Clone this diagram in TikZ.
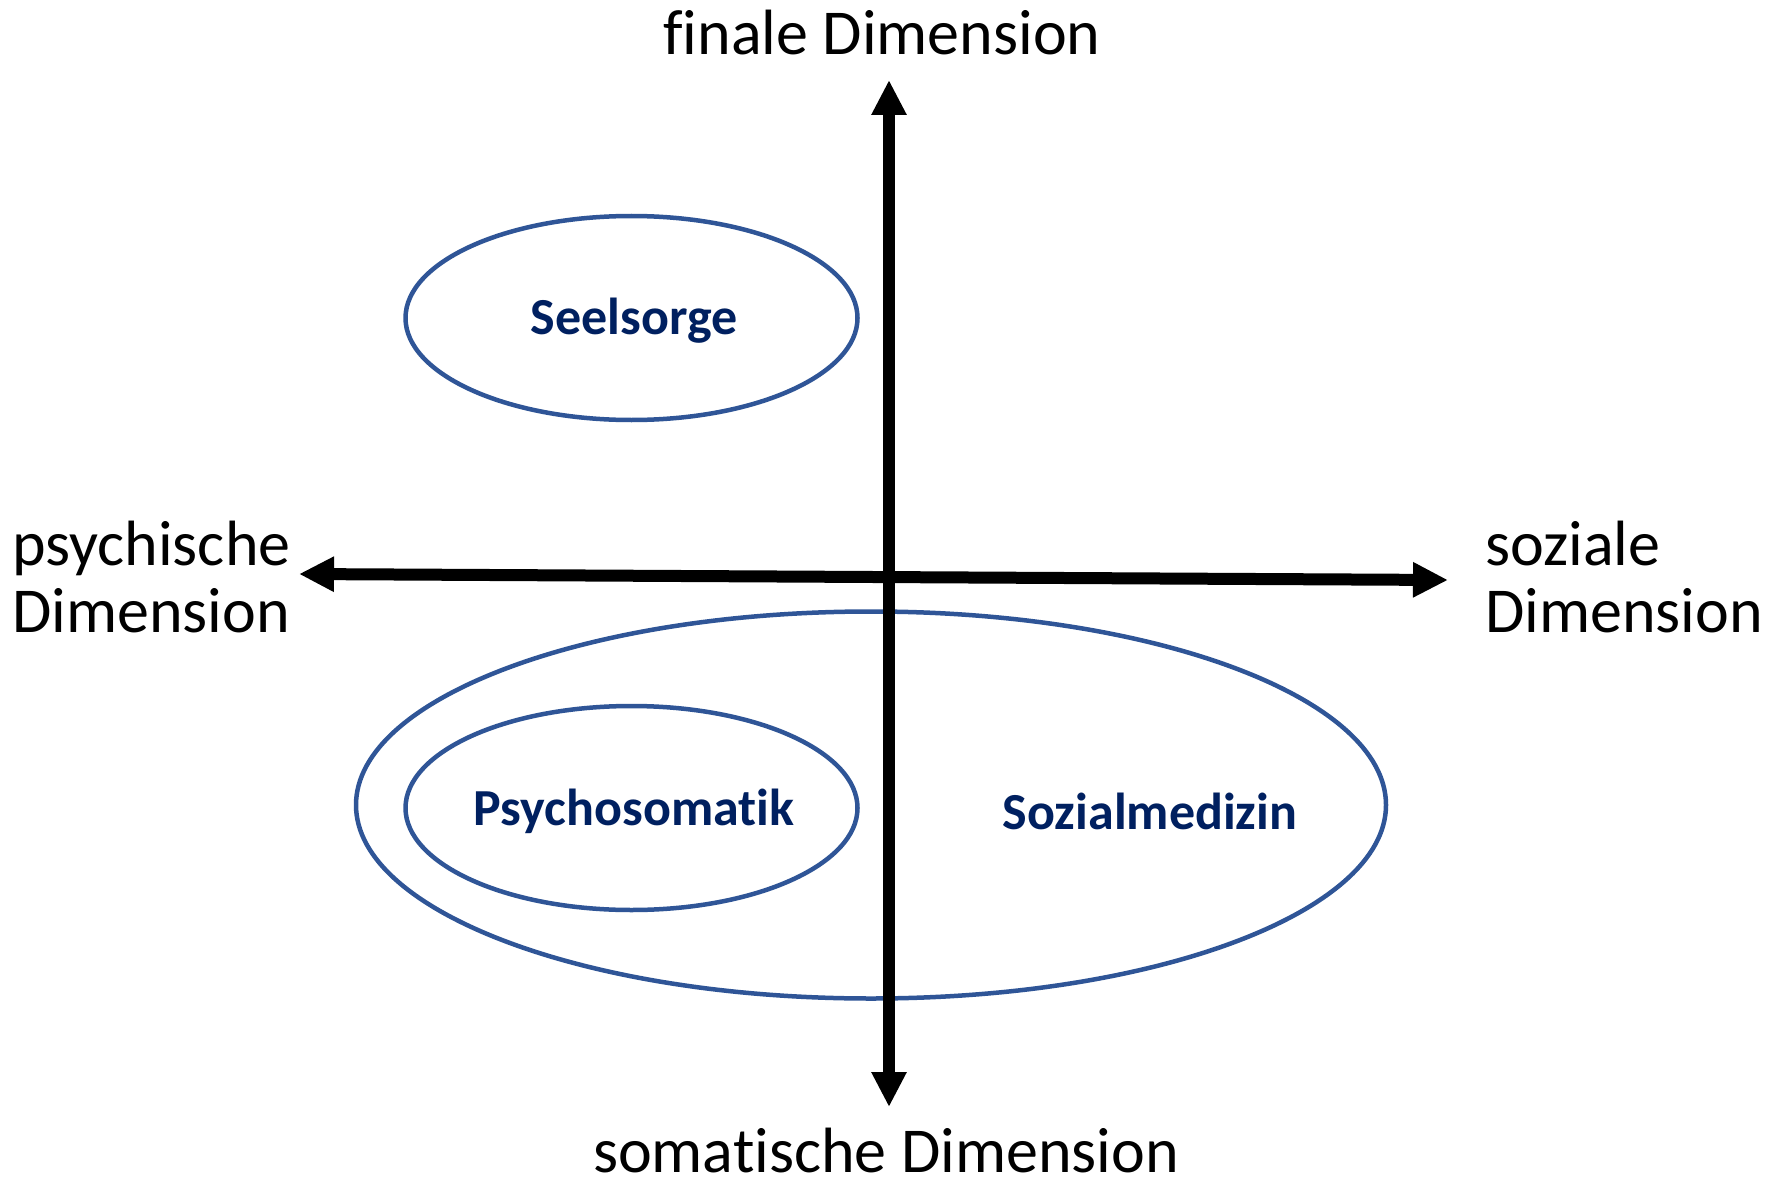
\documentclass[tikz,border=0pt]{standalone}
\usepackage{fontspec}
\setmainfont[RawFeature={-liga;-clig}]{Carlito}
\usetikzlibrary{arrows.meta,shapes.geometric}
\definecolor{ringblue}{RGB}{47,85,151}
\definecolor{labelnavy}{RGB}{0,32,96}
\begin{document}
\begin{tikzpicture}[x=1pt,y=-1pt,
  ring/.style={draw=ringblue,line width=4.5pt,ellipse,inner sep=0pt},
  fieldlabel/.style={text=labelnavy,font=\fontsize{52}{60}\selectfont\bfseries,inner sep=0pt},
  dimlabel/.style={font=\fontsize{64}{66}\selectfont,inner sep=0pt,text depth=0pt},
  axis/.style={line width=12pt,{Triangle[length=35pt,width=33pt]}-{Triangle[length=35pt,width=33pt]}}]
\useasboundingbox (0,0) rectangle (1785,1185);
\fill[white] (0,0) rectangle (1785,1185);
% rings
\node[ring,minimum width=452pt,minimum height=204pt] (seel) at (631.5,318) {};
\node[ring,minimum width=1030pt,minimum height=387pt] (big) at (871,805) {};
\node[ring,minimum width=452pt,minimum height=204pt] (psy) at (631.5,808) {};
\node[fieldlabel] (seeltxt) at (634,321) {Seelsorge};
\node[fieldlabel] (psytxt) at (634,811) {Psychosomatik};
\node[fieldlabel] (sozmed) at (1150,811) {Sozialmedizin};
% axis ends
\coordinate (top) at (889,80);
\coordinate (bottom) at (889,1107);
\coordinate (left) at (299,574);
\coordinate (right) at (1448,580);
\draw[axis] (bottom) -- (top);
\draw[axis] (left) -- (right);
% dimension labels
\node[dimlabel,anchor=base] (fin) at (882,55) {finale Dimension};
\node[dimlabel,anchor=base] (som) at (886,1172) {somatische Dimension};
\node[dimlabel,anchor=base west] (psyA) at (12,565) {psychische};
\node[dimlabel,anchor=base west] (psyB) at (12,632) {Dimension};
\node[dimlabel,anchor=base west] (sozA) at (1485,565) {soziale};
\node[dimlabel,anchor=base west] (sozB) at (1485,632) {Dimension};
\end{tikzpicture}
\end{document}
